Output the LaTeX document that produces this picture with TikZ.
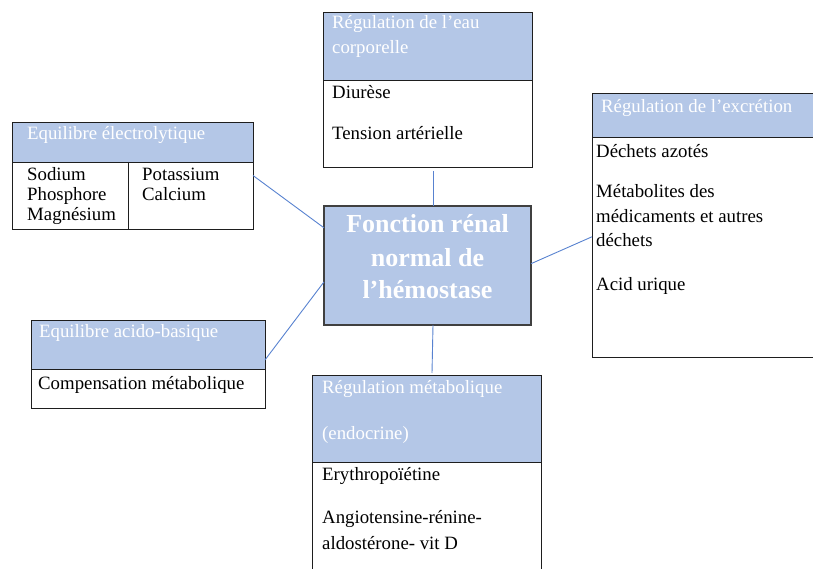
\documentclass[tikz,border=0pt]{standalone}
\usepackage{fontspec}
\setmainfont{Liberation Serif}
\definecolor{headblue}{RGB}{180,199,231}
\definecolor{linkblue}{RGB}{88,130,208}
\definecolor{boxline}{RGB}{30,30,30}

\begin{document}
\begin{tikzpicture}[x=1pt,y=-1pt,
  box/.style={draw=boxline,line width=0.8pt,inner sep=0,outer sep=0,anchor=north west},
  head/.style={box,fill=headblue},
  htxt/.style={anchor=base west,inner sep=0,text=white,font=\fontsize{18.8}{24}\selectfont},
  btxt/.style={anchor=base west,inner sep=0,font=\fontsize{18.8}{24}\selectfont},
  ttxt/.style={anchor=base,inner sep=0,text=white,font=\fontsize{26}{33}\selectfont\bfseries},
  link/.style={draw=linkblue,line width=0.9pt}]
  \useasboundingbox (0,0) rectangle (813,569);

  % eau corporelle
  \node[head,minimum width=209pt,minimum height=68pt] (eauhd) at (323,12) {};
  \node[box,minimum width=209pt,minimum height=155pt] (eau) at (323,12) {};
  \node[htxt] (eau1) at (332,29) {Régulation de l’eau};
  \node[htxt] (eau2) at (332,54) {corporelle};
  \node[btxt] (eau3) at (332,99) {Diurèse};
  \node[btxt] (eau4) at (332,140) {Tension artérielle};

  % equilibre electrolytique
  \node[head,minimum width=241pt,minimum height=40pt] (elechd) at (12,122) {};
  \node[box,minimum width=241pt,minimum height=107pt] (elec) at (12,122) {};
  \draw[boxline,line width=0.8pt] (128,162) -- (128,229);
  \node[htxt] (elec1) at (27,140) {Equilibre électrolytique};
  \node[btxt] (elec2) at (27,181) {Sodium};
  \node[btxt] (elec3) at (27,201) {Phosphore};
  \node[btxt] (elec4) at (27,221) {Magnésium};
  \node[btxt] (elec5) at (142,181) {Potassium};
  \node[btxt] (elec6) at (142,201) {Calcium};

  % excretion
  \node[head,minimum width=224pt,minimum height=44pt] (excrhd) at (592,93) {};
  \node[box,minimum width=224pt,minimum height=264pt] (excr) at (592,93) {};
  \node[htxt] (excr1) at (601,113) {Régulation de l’excrétion};
  \node[btxt] (excr2) at (596,158) {Déchets azotés};
  \node[btxt] (excr3) at (596,198) {Métabolites des};
  \node[btxt] (excr4) at (596,223) {médicaments et autres};
  \node[btxt] (excr5) at (596,247) {déchets};
  \node[btxt] (excr6) at (596,290) {Acid urique};

  % fonction renale
  \node[box,fill=headblue,draw=boxline!85,line width=1.2pt,minimum width=207pt,minimum height=119pt] (renal) at (324,206) {};
  \node[ttxt] (renal1) at (427.5,233) {Fonction rénal};
  \node[ttxt] (renal2) at (427.5,266) {normal de};
  \node[ttxt] (renal3) at (427.5,298) {l’hémostase};

  % acido-basique
  \node[head,minimum width=234pt,minimum height=49pt] (acidhd) at (31,320) {};
  \node[box,minimum width=234pt,minimum height=88pt] (acid) at (31,320) {};
  \node[htxt] (acid1) at (39,337) {Equilibre acido-basique};
  \node[btxt] (acid2) at (38,389) {Compensation métabolique};

  % metabolique
  \node[head,minimum width=229pt,minimum height=87pt] (metahd) at (312,375) {};
  \node[box,minimum width=229pt,minimum height=200pt] (meta) at (312,375) {};
  \node[htxt] (meta1) at (322,393) {Régulation métabolique};
  \node[htxt] (meta2) at (322,439) {(endocrine)};
  \node[btxt] (meta3) at (322,480) {Erythropoïétine};
  \node[btxt] (meta4) at (322,523) {Angiotensine-rénine-};
  \node[btxt] (meta5) at (322,549) {aldostérone- vit D};

  % liens
  \draw[link] ([xshift=5.5pt,yshift=-4pt]eau.south) -- ([xshift=5.5pt]renal.north);
  \draw[link] (elec.east) -- (renal.160.6);
  \draw[link] (acid.2) -- (renal.189);
  \draw[link] (excr.186) -- (renal.1.4);
  \draw[link] ([xshift=5.5pt]renal.south) -- ([xshift=5.5pt,yshift=2pt]meta.north);
\end{tikzpicture}
\end{document}
